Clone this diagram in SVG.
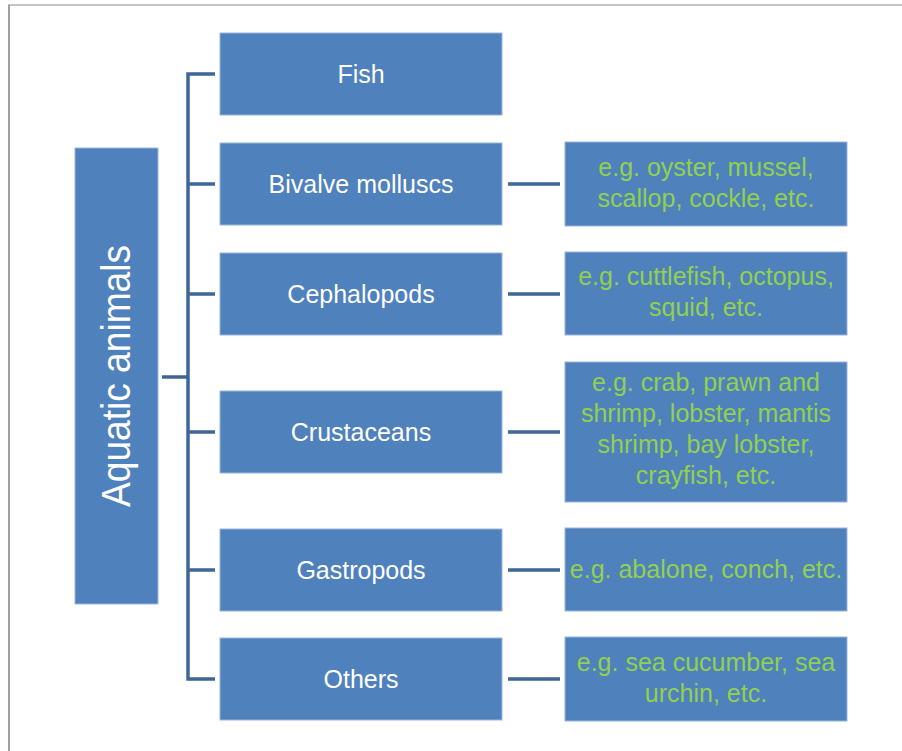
<svg xmlns="http://www.w3.org/2000/svg" width="902" height="751" viewBox="0 0 902 751">
<style>
.box{fill:#4f81bd;stroke:#9bb5dc;stroke-width:1}
.w{fill:#ffffff;font-family:"Liberation Sans",Arial,sans-serif;font-size:25px;text-anchor:middle}
.g{fill:#92d050;font-family:"Liberation Sans",Arial,sans-serif;font-size:25px;text-anchor:middle}
.c{fill:none;stroke:#3e6698;stroke-width:3.5}
</style>
<rect x="0" y="0" width="902" height="751" fill="#ffffff"/>
<line x1="8" y1="5" x2="902" y2="5" stroke="#c4c4c4" stroke-width="2"/>
<line x1="9" y1="5" x2="9" y2="751" stroke="#a0a0a0" stroke-width="2"/>
<g id="connectors">
<path class="c" d="M215 74 H188 V679 H215"/>
<path class="c" d="M188 184 H215 M188 294 H215 M188 432 H215 M188 570 H215"/>
<path class="c" d="M162 377 H188"/>
<path class="c" d="M508 184 H560 M508 294 H560 M508 432 H560 M508 570 H560 M508 679 H560"/>
</g>
<g id="aquatic">
<rect class="box" x="75" y="148" width="83" height="456"/>
<text class="w" transform="translate(130,376) rotate(-90)" style="font-size:40px" textLength="262" lengthAdjust="spacingAndGlyphs">Aquatic animals</text>
</g>
<g id="fish">
<rect class="box" x="220" y="33" width="282" height="82"/>
<text class="w" x="361" y="83">Fish</text>
</g>
<g id="bivalve">
<rect class="box" x="220" y="143" width="282" height="82"/>
<text class="w" x="361" y="193">Bivalve molluscs</text>
</g>
<g id="cephalopods">
<rect class="box" x="220" y="253" width="282" height="82"/>
<text class="w" x="361" y="303">Cephalopods</text>
</g>
<g id="crustaceans">
<rect class="box" x="220" y="391" width="282" height="82"/>
<text class="w" x="361" y="441">Crustaceans</text>
</g>
<g id="gastropods">
<rect class="box" x="220" y="529" width="282" height="82"/>
<text class="w" x="361" y="579">Gastropods</text>
</g>
<g id="others">
<rect class="box" x="220" y="638" width="282" height="82"/>
<text class="w" x="361" y="688">Others</text>
</g>
<g id="bivalve-eg">
<rect class="box" x="565" y="142" width="282" height="84"/>
<text class="g" x="706" y="176">e.g. oyster, mussel,</text>
<text class="g" x="706" y="207">scallop, cockle, etc.</text>
</g>
<g id="cephalopods-eg">
<rect class="box" x="565" y="252" width="282" height="83"/>
<text class="g" x="706" y="285">e.g. cuttlefish, octopus,</text>
<text class="g" x="706" y="316">squid, etc.</text>
</g>
<g id="crustaceans-eg">
<rect class="box" x="565" y="362" width="282" height="140"/>
<text class="g" x="706" y="391">e.g. crab, prawn and</text>
<text class="g" x="706" y="422">shrimp, lobster, mantis</text>
<text class="g" x="706" y="453">shrimp, bay lobster,</text>
<text class="g" x="706" y="484">crayfish, etc.</text>
</g>
<g id="gastropods-eg">
<rect class="box" x="565" y="528" width="282" height="83"/>
<text class="g" x="706" y="578">e.g. abalone, conch, etc.</text>
</g>
<g id="others-eg">
<rect class="box" x="565" y="637" width="282" height="84"/>
<text class="g" x="706" y="671">e.g. sea cucumber, sea</text>
<text class="g" x="706" y="702">urchin, etc.</text>
</g>
</svg>
